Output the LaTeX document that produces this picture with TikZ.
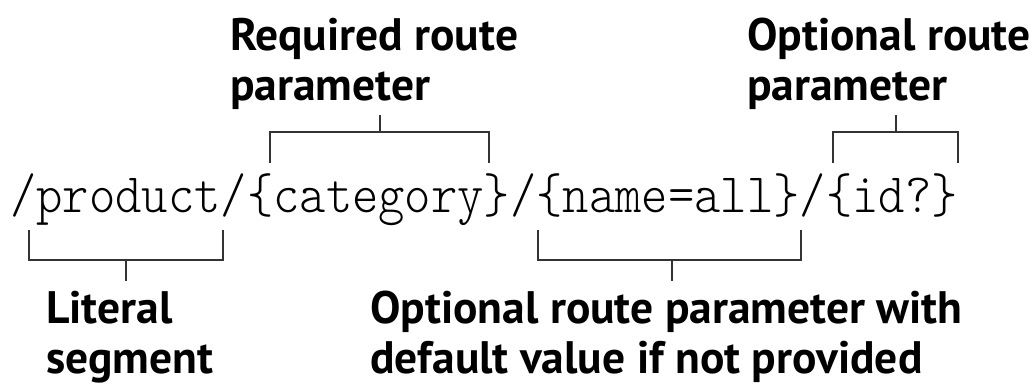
\documentclass[tikz,border=0pt]{standalone}
\usepackage{fontspec}
\newfontfamily\lblfont{PT Sans}
\newfontfamily\urlfont{Latin Modern Mono Light}
\usetikzlibrary{positioning}
\begin{document}
\begin{tikzpicture}[x=1pt,y=-1pt,
  lbl/.style={font=\lblfont\bfseries\fontsize{45.5}{50}\selectfont,align=left,anchor=base west,inner sep=0pt},
  url/.style={font=\urlfont\fontsize{55.7}{60}\selectfont,anchor=base west,inner sep=0pt},
  brk/.style={line width=2pt,draw=black!80}]
\useasboundingbox (0,0) rectangle (1035,384);
% the route template
\node[url] (route) at (10,212) {\scalebox{0.90}[1]{/product/\{category\}/\{name=all\}/\{id?\}}};
% labels (anchored on the last line)
\node[lbl] (req) at (230,100) {Required route\\parameter};
\node[lbl] (opt) at (747,100) {Optional route\\parameter};
\node[lbl] (lit) at (46,373) {Literal\\segment};
\node[lbl] (dflt) at (370,373) {Optional route parameter with\\default value if not provided};
% brackets above
\draw[brk] (270,163) -- (270,132) -- (489,132) -- (489,163);
\draw[brk] (380,132) -- (380,115);
\draw[brk] (833,163) -- (833,132) -- (958,132) -- (958,163);
\draw[brk] (896,132) -- (896,115);
% brackets below
\draw[brk] (29,230) -- (29,260) -- (223,260) -- (223,230);
\draw[brk] (126,260) -- (126,281);
\draw[brk] (538,230) -- (538,260) -- (801,260) -- (801,230);
\draw[brk] (672,260) -- (672,281);
\end{tikzpicture}
\end{document}
